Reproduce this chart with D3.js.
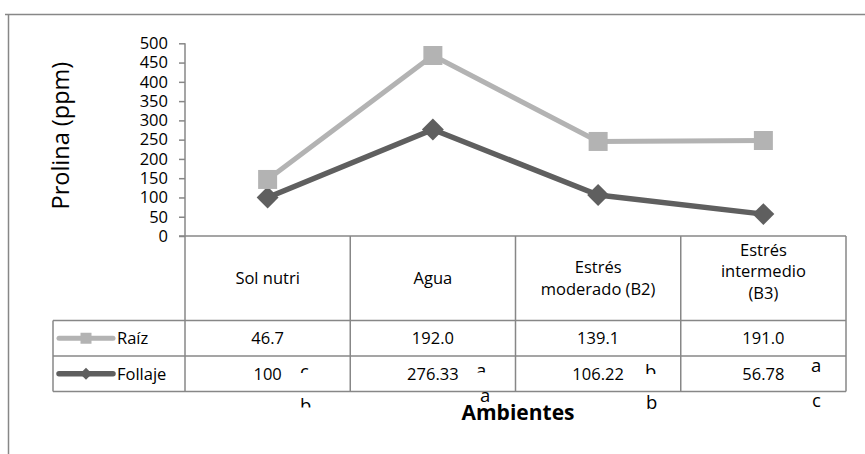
<!DOCTYPE html>
<html>
<head>
<meta charset="utf-8">
<script src="https://cdn.jsdelivr.net/npm/d3@7"></script>
<style>
  body { margin: 0; background: #fff; }
  svg { display: block; }
  text { font-family: "Open Sans", "Liberation Sans", sans-serif; fill: #000; }
</style>
</head>
<body>
<svg id="chart" width="865" height="454"></svg>
<script>
// Proline content (ppm) by environment; the two series are stacked lines
const categories = ["Sol nutri", "Agua", "Estrés moderado (B2)", "Estrés intermedio (B3)"];
const categoryLines = [["Sol nutri"], ["Agua"], ["Estrés", "moderado (B2)"], ["Estrés", "intermedio", "(B3)"]];
const seriesNames = ["Raíz", "Follaje"];
const raiz = [46.7, 192.0, 139.1, 191.0];
const follaje = [100, 276.33, 106.22, 56.78];
const letrasSup = ["c", "a", "b", "a"];
const letrasInf = ["b", "a", "b", "c"];
const yTicks = [0, 50, 100, 150, 200, 250, 300, 350, 400, 450, 500];

const svg = d3.select("#chart");
const W = 865, H = 454;

const plotLeft = 185, plotRight = 846;
const yZero = 236, yTop = 43.3;
const rowHeader = 320.5, rowRaiz = 356, rowFollaje = 391.5;
const legendLeft = 53;
const tableFont = 16.5;

const gridColor = "#878787";
const raizColor = "#b3b3b3";
const follajeColor = "#5f5f5f";

// outer chart frame (top and left edges)
svg.append("path")
  .attr("d", `M5,14.5H${W}M8.5,14V${H}`)
  .attr("fill", "none").attr("stroke", gridColor).attr("stroke-width", 1.5);

const x = d3.scaleBand().domain(categories).range([plotLeft, plotRight]).padding(0);
const y = d3.scaleLinear().domain([0, 500]).range([yZero, yTop]);
const cx = c => x(c) + x.bandwidth() / 2;

// stacked series: Follaje at the base, Raíz on top
const rows = categories.map((c, i) => ({ cat: c, "Follaje": follaje[i], "Raíz": raiz[i] }));
const stacked = d3.stack().keys(["Follaje", "Raíz"])(rows);
const byName = { "Follaje": stacked[0], "Raíz": stacked[1] };

// y axis
const yAxis = d3.axisLeft(y).tickValues(yTicks).tickSize(6).tickSizeOuter(6).tickPadding(11);
const gy = svg.append("g").attr("transform", `translate(${plotLeft},0)`).call(yAxis);
gy.selectAll("path, line").attr("stroke", gridColor).attr("stroke-width", 1.5);
gy.selectAll("text").attr("font-size", 16.5).attr("font-family", "\"Open Sans\", sans-serif").attr("fill", "#000");
gy.select(".domain").remove();
svg.append("line").attr("x1", plotLeft).attr("x2", plotLeft).attr("y1", y(500)).attr("y2", rowFollaje)
  .attr("stroke", gridColor).attr("stroke-width", 1.5);

svg.append("text")
  .attr("transform", `translate(69,${(y(500) + yZero) / 2 - 4}) rotate(-90)`)
  .attr("text-anchor", "middle")
  .attr("font-size", 23.5)
  .text("Prolina (ppm)");

// data table grid
const grid = svg.append("g").attr("stroke", gridColor).attr("stroke-width", 1.5).attr("fill", "none");
grid.append("line").attr("x1", plotLeft - 6).attr("x2", plotRight).attr("y1", yZero).attr("y2", yZero);
[rowHeader, rowRaiz, rowFollaje].forEach(yy => {
  grid.append("line").attr("x1", legendLeft).attr("x2", plotRight).attr("y1", yy).attr("y2", yy);
});
grid.append("line").attr("x1", legendLeft).attr("x2", legendLeft).attr("y1", rowHeader).attr("y2", rowFollaje);
categories.forEach(c => {
  const xr = x(c) + x.bandwidth();
  grid.append("line").attr("x1", xr).attr("x2", xr).attr("y1", yZero).attr("y2", rowFollaje);
});

// header labels
const headerMid = { 1: 278, 2: 278, 3: 271 };
categories.forEach((c, i) => {
  const lines = categoryLines[i];
  const lh = 21.5;
  const mid = headerMid[lines.length];
  const t = svg.append("text").attr("text-anchor", "middle").attr("font-size", tableFont);
  lines.forEach((ln, k) => {
    t.append("tspan").attr("x", cx(c))
      .attr("y", mid + (k - (lines.length - 1) / 2) * lh + 6)
      .text(ln);
  });
});

// value rows
const rowMid = { "Raíz": (rowHeader + rowRaiz) / 2, "Follaje": (rowRaiz + rowFollaje) / 2 };
const fmt = { "Raíz": d3.format(".1f"), "Follaje": v => String(v) };
const vals = { "Raíz": raiz, "Follaje": follaje };
seriesNames.forEach(name => {
  categories.forEach((c, i) => {
    svg.append("text").attr("x", cx(c)).attr("y", rowMid[name] + 6)
      .attr("text-anchor", "middle").attr("font-size", tableFont)
      .text(fmt[name](vals[name][i]));
  });
});

// legend keys inside the table
const squareSym = d3.symbol().type(d3.symbolSquare);
const style = {
  "Raíz": { color: raizColor, width: 5, big: 19, small: 11, rot: 0 },
  "Follaje": { color: follajeColor, width: 5.5, big: 15.5, small: 8.5, rot: 45 }
};
const marker = (g, s) => g.append("path").attr("d", squareSym.size(s * s)());
seriesNames.forEach(name => {
  const st = style[name];
  const ym = rowMid[name];
  svg.append("line").attr("x1", 59).attr("x2", 113).attr("y1", ym).attr("y2", ym)
    .attr("stroke", st.color).attr("stroke-width", st.width).attr("stroke-linecap", "round");
  const g = svg.append("g").attr("transform", `translate(86,${ym}) rotate(${st.rot})`).attr("fill", st.color);
  marker(g, st.small);
  svg.append("text").attr("x", 117).attr("y", ym + 6).attr("font-size", tableFont).text(name);
});

// stacked lines with markers
const line = d3.line().x(d => cx(d.data.cat)).y(d => y(d[1]));
["Follaje", "Raíz"].forEach(name => {
  const st = style[name];
  const s = byName[name];
  svg.append("path").datum(s).attr("d", line)
    .attr("fill", "none").attr("stroke", st.color).attr("stroke-width", st.width)
    .attr("stroke-linejoin", "round");
  s.forEach(d => {
    const g = svg.append("g").attr("transform", `translate(${cx(d.data.cat)},${y(d[1])}) rotate(${st.rot})`)
      .attr("fill", st.color);
    marker(g, st.big);
  });
});

// significance letters (two overlapping label boxes, partially cut off)
const defs = svg.append("defs");
const supPos = [[300, 378, 373], [476, 377, 372.5], [645, 378, 374], [811, 372, null]];
const infPos = [[300, 412, 407.5], [480, 402, null], [646, 409, null], [812, 407, null]];
function letter(txt, p, id) {
  const t = svg.append("text").attr("x", p[0]).attr("y", p[1]).attr("font-size", 18.5).text(txt);
  if (p[2] != null) {
    defs.append("clipPath").attr("id", id).append("rect")
      .attr("x", p[0] - 5).attr("y", p[1] - 30).attr("width", 30).attr("height", p[2] - (p[1] - 30));
    t.attr("clip-path", `url(#${id})`);
  }
}
letrasSup.forEach((l, i) => letter(l, supPos[i], "cs" + i));
letrasInf.forEach((l, i) => letter(l, infPos[i], "ci" + i));

// x axis title
svg.append("text").attr("x", 518).attr("y", 420).attr("text-anchor", "middle")
  .attr("font-size", 21).attr("font-weight", "bold").text("Ambientes");
</script>
</body>
</html>
